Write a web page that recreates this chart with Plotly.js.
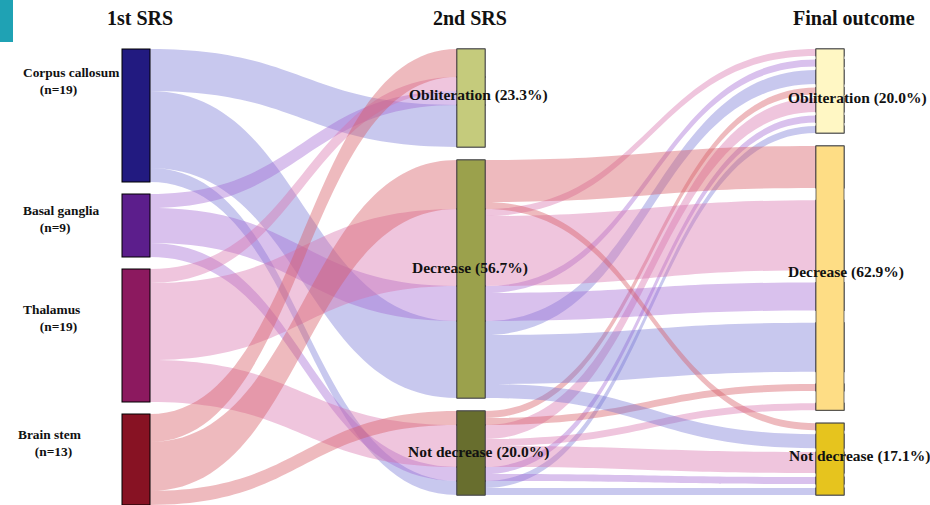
<!DOCTYPE html>
<html><head><meta charset="utf-8">
<script src="https://cdn.plot.ly/plotly-3.0.1.min.js"></script>
<style>html,body{margin:0;padding:0;background:#fff}#chart{width:930px;height:505px}</style>
</head><body><div id="chart"></div>
<script>
// ---------- data ----------
const regions = ['Corpus callosum', 'Basal ganglia', 'Thalamus', 'Brain stem'];
const regionN = [19, 9, 19, 13];
const stage2 = ['Obliteration', 'Decrease', 'Not decrease'];
const stage2N = [14, 34, 12];
const stage2Pct = [23.3, 56.7, 20.0];
const finalLabels = ['Obliteration', 'Decrease', 'Not decrease'];
const finalPct = [20.0, 62.9, 17.1];
const columnTitles = ['1st SRS', '2nd SRS', 'Final outcome'];

// 1st SRS (region) -> 2nd SRS
const firstSrc = [0, 0, 0, 1, 1, 1, 2, 2, 2, 3, 3, 3];
const firstTgt = [0, 1, 2, 0, 1, 2, 0, 1, 2, 0, 1, 2];
const firstVal = [6, 11, 2, 2, 5, 2, 2, 11, 6, 4, 7, 2];

// 2nd SRS -> final outcome, coloured by region of origin
const secondSrc    = [1, 1, 1, 1, 1, 1, 1, 1, 1, 2, 2, 2, 2, 2, 2, 2, 2, 2];
const secondTgt    = [0, 0, 0, 1, 1, 1, 1, 2, 2, 0, 0, 0, 0, 1, 1, 2, 2, 2];
const secondRegion = [2, 1, 0, 3, 2, 1, 0, 3, 0, 3, 2, 1, 0, 3, 2, 2, 1, 0];
const secondVal    = [1, 1, 2, 6, 10, 4, 7, 1, 2, 1, 2, 1, 1, 1, 1, 3, 1, 1];

// ---------- styling ----------
const regionColors = ['#221a80', '#5c1e8c', '#8c195f', '#871223'];
const stage2Colors = ['#c5cb7c', '#9ba14c', '#686e2e'];
const finalColors = ['#fff7c4', '#fedd85', '#e6c41e'];
const linkColors = ['rgba(110,110,210,0.38)', 'rgba(160,100,210,0.40)',
                    'rgba(215,110,170,0.40)', 'rgba(215,90,100,0.42)'];
const CLEAR = 'rgba(0,0,0,0)';
const EDGE = '#4a4a4a';
const FONT = 'Liberation Serif, Times New Roman, serif';

// ---------- geometry helpers ----------
const W = 930, H = 505, TOP = 49;
const plotH = H - TOP;
const PAD = 12, GAP = 13;
const total = regionN.reduce((a, b) => a + b, 0);
const ky = (plotH - (regions.length - 1) * PAD) / total;
function tops(vals, gap) {
  const t = []; let y = 0;
  vals.forEach(v => { t.push(y); y += v * ky + gap; });
  return t;
}
const finalVals = finalPct.map(p => p * total / 100);
const leftT = tops(regionN, PAD);
const midT = tops(stage2N, GAP);
const finT = tops(finalVals, GAP);
const colX = [136 / W, 471 / W, 830 / W];
const regionOrder = regions.map((_, i) => i).reverse();   // stacked inside bars: last region on top

// ---------- trace 1 : ribbons ----------
// (node names are drawn as annotations, so the sankey's own labels stay empty)
const n1 = {color: [], x: [], y: [], lc: [], lw: []};
function addNode(c, x, yc, lc, lw) {
  n1.color.push(c); n1.x.push(x); n1.y.push(yc / plotH);
  n1.lc.push(lc); n1.lw.push(lw); return n1.color.length - 1;
}
regions.forEach((r, i) => addNode(regionColors[i], colX[0], leftT[i] + regionN[i] * ky / 2, EDGE, 0.8));

function firstValue(r, s) {
  let v = 0; firstSrc.forEach((fs, i) => { if (fs === r && firstTgt[i] === s) v += firstVal[i]; });
  return v;
}
const midSub = stage2.map(() => ({}));
const midSubY = {};
stage2.forEach((s, si) => {
  let y = midT[si];
  regionOrder.forEach(r => {
    const v = firstValue(r, si);
    if (v > 0) {
      const yc = y + v * ky / 2;
      const id = addNode(CLEAR, colX[1], yc, '#ffffff', 0.01);
      midSub[si][r] = id; midSubY[id] = yc; y += v * ky;
    }
  });
});

const L1 = {source: [], target: [], value: [], color: []};
firstSrc.forEach((r, i) => {
  L1.source.push(r); L1.target.push(midSub[firstTgt[i]][r]);
  L1.value.push(firstVal[i]); L1.color.push(linkColors[r]);
});

// final column: each ribbon lands on its own slot, spread over the bar
finalLabels.forEach((f, j) => {
  const idx = secondTgt.map((t, i) => i).filter(i => secondTgt[i] === j);
  idx.sort((a, b) => (midSubY[midSub[secondSrc[a]][secondRegion[a]]] -
                      midSubY[midSub[secondSrc[b]][secondRegion[b]]]) || (a - b));
  const vis = idx.reduce((a, i) => a + secondVal[i] * ky, 0);
  const barH = finalVals[j] * ky;
  const gap = idx.length > 1 ? (barH - vis) / (idx.length - 1) : 0;
  let y = finT[j];
  idx.forEach(i => {
    const h = secondVal[i] * ky;
    const id = addNode(CLEAR, colX[2], y + h / 2, '#ffffff', 0.01);
    y += h + gap;
    L1.source.push(midSub[secondSrc[i]][secondRegion[i]]);
    L1.target.push(id); L1.value.push(secondVal[i]);
    L1.color.push(linkColors[secondRegion[i]]);
  });
});

// pad chosen so the busiest column (the middle one) keeps the common scale
const midCount = midSub.reduce((a, o) => a + Object.keys(o).length, 0);
const pad1 = (plotH - total * ky) / (midCount - 1) - 1e-6;

const trace1 = {
  type: 'sankey', arrangement: 'fixed', domain: {x: [0, 1], y: [0, 1]},
  hoverinfo: 'none', textfont: {color: '#ffffff', size: 1},
  node: {label: n1.color.map(() => ''), color: n1.color, x: n1.x, y: n1.y, pad: pad1, thickness: 28,
         align: 'left', line: {color: n1.lc, width: n1.lw}, hoverinfo: 'none'},
  link: {source: L1.source, target: L1.target, value: L1.value, color: L1.color,
         line: {width: 0}, hoverinfo: 'none'}
};

// ---------- trace 2 : the 2nd SRS and final bars ----------
// node 0 is an off-page feeder that only gives the bars their height
const n2 = {color: [CLEAR, ...stage2Colors, ...finalColors], x: [-0.4], y: [0.5]};
stage2N.forEach((v, i) => { n2.x.push(colX[1]); n2.y.push((midT[i] + v * ky / 2) / plotH); });
finalVals.forEach((v, i) => { n2.x.push(colX[2]); n2.y.push((finT[i] + v * ky / 2) / plotH); });
const L2 = {source: [], target: [], value: []};
stage2N.forEach((v, i) => { L2.source.push(0); L2.target.push(1 + i); L2.value.push(v); });
const left2 = stage2N.slice(), need = finalVals.slice();
let a = 0, b = 0;
while (a < left2.length && b < need.length) {
  const m = Math.min(left2[a], need[b]);
  if (m > 1e-9) { L2.source.push(1 + a); L2.target.push(4 + b); L2.value.push(m); }
  left2[a] -= m; need[b] -= m;
  if (left2[a] <= 1e-9) a++;
  if (need[b] <= 1e-9) b++;
}
const pad2 = (plotH - total * ky) / (stage2.length - 1) - 1e-6;
const trace2 = {
  type: 'sankey', arrangement: 'fixed', domain: {x: [0, 1], y: [0, 1]},
  hoverinfo: 'none', textfont: {color: '#ffffff', size: 1},
  node: {label: n2.color.map(() => ''), color: n2.color, x: n2.x, y: n2.y, pad: pad2, thickness: 28,
         align: 'left', line: {color: EDGE, width: 0.8}, hoverinfo: 'none'},
  link: {source: L2.source, target: L2.target, value: L2.value,
         color: L2.value.map(() => CLEAR), line: {width: 0}, hoverinfo: 'none'}
};

// ---------- text ----------
function px(x) { return x / W; }
function py(y) { return 1 - (y - TOP) / plotH; }
const ann = [];
const titleX = [140, 470, 854];
columnTitles.forEach((t, i) => ann.push({
  text: '<b>' + t + '</b>', x: px(titleX[i]), y: py(18), xref: 'paper', yref: 'paper',
  showarrow: false, xanchor: 'center', yanchor: 'middle', font: {family: FONT, size: 20, color: '#111'}
}));
const leftLabelY = [81, 219, 318, 443];
const leftLabelX = [21, 21, 21, 16];
const IND = '\u00a0\u00a0\u00a0\u00a0\u00a0';
regions.forEach((r, i) => ann.push({
  text: '<b>' + r + '<br>' + IND + '(n=' + regionN[i] + ')</b>',
  x: px(leftLabelX[i]), y: py(leftLabelY[i]), xref: 'paper', yref: 'paper',
  showarrow: false, xanchor: 'left', yanchor: 'middle', align: 'left',
  font: {family: FONT, size: 13.4, color: '#111'}
}));
const midLab = [[478, 95], [470, 268], [479, 452]];
stage2.forEach((s, i) => ann.push({
  text: '<b>' + s + ' (' + stage2Pct[i].toFixed(1) + '%)</b>',
  x: px(midLab[i][0]), y: py(midLab[i][1]), xref: 'paper', yref: 'paper',
  showarrow: false, xanchor: 'center', yanchor: 'middle',
  font: {family: FONT, size: 15.5, color: '#111'}
}));
const finLab = [[857, 98], [846, 272], [859, 456]];
finalLabels.forEach((s, i) => ann.push({
  text: '<b>' + s + ' (' + finalPct[i].toFixed(1) + '%)</b>',
  x: px(finLab[i][0]), y: py(finLab[i][1]), xref: 'paper', yref: 'paper',
  showarrow: false, xanchor: 'center', yanchor: 'middle',
  font: {family: FONT, size: 15.5, color: '#111'}
}));

const layout = {
  width: W, height: H,
  margin: {l: 0, r: 0, t: TOP, b: 0},
  paper_bgcolor: '#ffffff', plot_bgcolor: '#ffffff',
  font: {family: FONT},
  annotations: ann,
  shapes: [{type: 'rect', xref: 'paper', yref: 'paper', x0: 0, x1: px(13), y0: py(42), y1: py(0),
            fillcolor: '#1fa2b4', line: {width: 0}}]
};
Plotly.newPlot('chart', [trace1, trace2], layout, {displayModeBar: false, staticPlot: true});
</script></body></html>
